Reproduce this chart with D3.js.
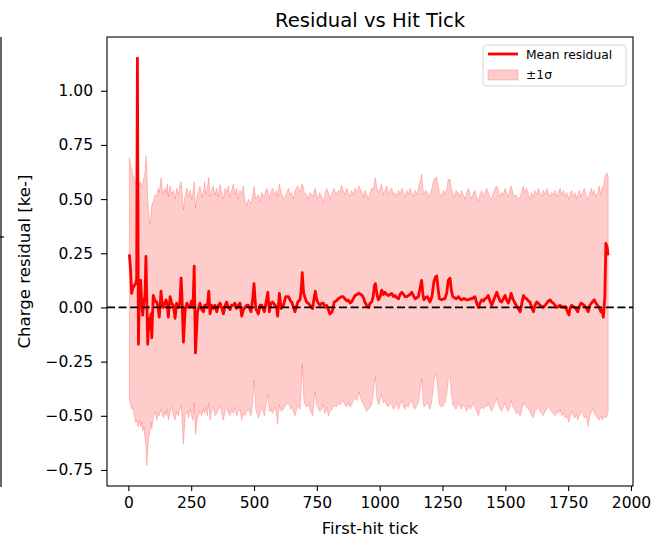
<!DOCTYPE html>
<html><head><meta charset="utf-8">
<script src="https://cdn.jsdelivr.net/npm/d3@7"></script>
<style>body{margin:0;background:#fff}svg{display:block}text{font-family:"DejaVu Sans",sans-serif}</style>
</head><body><svg id="c" width="658" height="539"></svg>
<script>
const firstHitTick = [
4,9,13,18,23,29,33,36,40,45,
49,53,57,62,66,70,73,77,81,86,
90,93,99,106,113,118,123,130,135,139,
145,150,155,159,166,172,179,186,192,199,
205,210,214,219,226,233,240,246,252,257,
262,267,275,285,292,299,304,309,314,320,
325,331,338,345,352,358,365,371,378,385,
391,398,405,411,418,424,431,437,444,451,
458,464,471,477,488,495,500,507,517,524,
531,541,549,555,561,567,573,584,590,594,
601,608,617,626,637,645,650,657,663,674,
683,688,692,697,700,709,716,723,733,740,
744,749,753,762,770,776,782,789,796,802,
811,819,827,835,842,848,855,862,869,875,
882,888,895,902,910,918,925,931,937,941,
948,955,962,968,974,979,983,989,995,1002,
1008,1015,1021,1028,1035,1041,1048,1055,1061,1068,
1075,1081,1088,1095,1101,1108,1114,1121,1128,1134,
1141,1148,1154,1161,1167,1172,1176,1183,1190,1196,
1200,1208,1216,1222,1227,1233,1238,1247,1254,1260,
1267,1273,1280,1285,1291,1298,1304,1310,1313,1320,
1326,1333,1340,1346,1353,1360,1366,1373,1379,1386,
1393,1399,1406,1413,1419,1426,1432,1439,1446,1452,
1459,1466,1472,1479,1486,1492,1499,1505,1512,1518,
1523,1530,1536,1543,1549,1559,1566,1572,1578,1585,
1592,1598,1605,1612,1618,1625,1631,1638,1645,1651,
1658,1665,1671,1678,1684,1691,1698,1704,1711,1718,
1724,1731,1738,1744,1753,1758,1764,1770,1777,1783,
1788,1795,1801,1808,1814,1821,1830,1836,1843,1849,
1854,1860,1867,1873,1880,1885,1890,1896,1900,1905,
1909];
const meanResidual = [
.245,.17,.065,.09,.10,.11,.13,1.15,-.17,.12,
.125,.02,-.035,.03,.05,.235,.06,-.17,-.05,-.10,
-.03,-.14,.055,.03,.025,.00,-.045,.075,.01,.00,
.02,.035,.01,-.045,.05,.02,.01,-.05,.02,.00,
.02,.135,.03,-.16,-.01,.02,.00,.00,.03,.00,
.19,-.21,-.02,.02,-.01,-.02,.01,.01,.00,.075,
-.03,.01,-.005,.01,-.02,.01,.02,.00,-.03,.01,
.025,.00,-.01,.01,.01,.02,-.005,.01,.02,-.04,
-.01,.00,.01,.01,-.02,.04,.11,-.005,-.03,.01,
.01,-.02,.03,.07,-.02,.02,.025,.01,.00,-.04,
.065,-.005,.01,.05,.05,.03,.025,.00,-.02,.025,
.035,.08,.16,.07,.055,.025,.02,.01,-.005,.05,
.075,.04,.025,.01,.02,.02,.00,.01,-.01,-.03,
-.02,.025,.03,.04,.045,.05,.05,.04,.03,.035,
.02,.025,.04,.055,.06,.065,.06,.055,.04,.025,
.01,.00,.02,.025,.05,.10,.11,.06,.035,.05,
.08,.06,.07,.06,.055,.06,.065,.05,.055,.045,
.04,.06,.07,.06,.05,.05,.055,.06,.07,.055,
.04,.045,.05,.09,.125,.06,.035,.045,.05,.035,
.025,.05,.12,.14,.145,.08,.04,.035,.04,.04,
.07,.125,.135,.08,.05,.045,.04,.045,.05,.04,
.035,.04,.04,.035,.035,.04,.04,.045,.05,.02,
.00,.02,.035,.03,.04,.045,.055,.03,.01,.03,
.05,.07,.05,.03,.025,.04,.055,.035,.02,.04,
.065,.04,.025,.01,.00,-.02,.02,.055,.045,.04,
.03,.025,.00,-.02,.01,.025,.02,.01,.005,.00,
.01,.02,.03,.035,.025,.02,.01,.00,.005,.01,
.005,.00,.005,-.01,-.035,.00,.01,.005,.00,-.01,
-.02,.005,.02,.015,.01,.00,-.02,.01,.02,.03,
.035,.02,.01,.00,-.02,-.01,-.045,.05,.295,.28,
.24];
const bandHigh = [
.69,.66,.64,.61,.60,.57,.58,.60,.59,.56,
.58,.55,.57,.60,.62,.70,.65,.50,.42,.385,
.44,.47,.49,.52,.51,.55,.53,.60,.55,.52,
.55,.53,.57,.51,.56,.52,.54,.50,.55,.52,
.56,.58,.53,.45,.52,.55,.51,.54,.50,.53,
.58,.46,.52,.56,.51,.54,.58,.52,.55,.60,
.51,.54,.56,.52,.55,.51,.57,.53,.50,.55,
.53,.56,.51,.54,.57,.52,.55,.50,.54,.52,
.56,.49,.47,.50,.48,.52,.56,.50,.52,.49,
.53,.51,.55,.54,.50,.53,.55,.52,.54,.51,
.57,.53,.50,.52,.55,.52,.53,.50,.54,.56,
.53,.56,.57,.55,.53,.52,.50,.53,.51,.54,
.55,.52,.50,.53,.51,.48,.52,.55,.53,.50,
.53,.55,.52,.54,.53,.565,.54,.52,.55,.53,
.51,.54,.52,.55,.53,.56,.54,.53,.51,.54,
.52,.50,.53,.55,.54,.58,.60,.55,.53,.55,
.57,.52,.54,.56,.52,.54,.55,.52,.53,.51,
.54,.52,.55,.53,.51,.54,.52,.55,.53,.51,
.54,.52,.55,.58,.615,.55,.52,.54,.53,.51,
.52,.55,.59,.60,.60,.56,.53,.51,.54,.52,
.55,.59,.59,.55,.53,.51,.54,.52,.53,.51,
.54,.52,.50,.53,.55,.52,.50,.53,.54,.51,
.49,.52,.54,.51,.53,.55,.53,.51,.50,.53,
.55,.56,.54,.51,.53,.52,.55,.53,.51,.54,
.56,.53,.51,.52,.50,.51,.54,.56,.53,.55,
.52,.50,.53,.51,.54,.52,.55,.53,.51,.54,
.52,.55,.53,.51,.53,.52,.54,.51,.53,.55,
.52,.54,.51,.53,.50,.52,.54,.51,.53,.50,
.52,.54,.51,.53,.55,.52,.50,.53,.55,.52,
.54,.51,.53,.56,.52,.55,.56,.60,.615,.62,
.60];
const bandLow = [
-.42,-.45,-.47,-.46,-.50,-.53,-.52,-.54,-.55,-.52,
-.55,-.53,-.57,-.55,-.60,-.64,-.73,-.66,-.60,-.57,
-.53,-.56,-.51,-.48,-.52,-.49,-.50,-.47,-.49,-.51,
-.48,-.50,-.47,-.52,-.48,-.46,-.50,-.52,-.48,-.50,
-.47,-.45,-.52,-.63,-.50,-.48,-.51,-.47,-.50,-.52,
-.44,-.585,-.51,-.48,-.50,-.47,-.49,-.46,-.50,-.44,
-.52,-.48,-.46,-.50,-.49,-.47,-.45,-.49,-.52,-.48,
-.46,-.49,-.50,-.47,-.49,-.46,-.50,-.48,-.47,-.52,
-.49,-.50,-.48,-.47,-.50,-.44,-.335,-.47,-.51,-.49,
-.46,-.50,-.44,-.40,-.48,-.47,-.49,-.46,-.50,-.54,
-.45,-.48,-.47,-.45,-.44,-.47,-.46,-.48,-.50,-.45,
-.47,-.38,-.26,-.40,-.44,-.46,-.45,-.47,-.50,-.42,
-.39,-.45,-.46,-.48,-.47,-.45,-.49,-.46,-.50,-.48,
-.47,-.45,-.46,-.44,-.45,-.44,-.43,-.45,-.46,-.44,
-.46,-.45,-.43,-.42,-.43,-.39,-.42,-.44,-.45,-.46,
-.48,-.47,-.46,-.45,-.40,-.35,-.32,-.42,-.45,-.43,
-.40,-.44,-.43,-.45,-.46,-.44,-.45,-.47,-.46,-.44,
-.47,-.45,-.43,-.46,-.47,-.45,-.46,-.44,-.43,-.46,
-.47,-.45,-.44,-.38,-.33,-.42,-.46,-.45,-.44,-.46,
-.47,-.43,-.34,-.31,-.32,-.40,-.45,-.46,-.45,-.44,
-.40,-.33,-.32,-.40,-.45,-.46,-.47,-.45,-.44,-.46,
-.47,-.45,-.46,-.48,-.45,-.47,-.46,-.44,-.46,-.48,
-.50,-.47,-.46,-.47,-.45,-.46,-.44,-.47,-.48,-.46,
-.44,-.42,-.45,-.47,-.48,-.46,-.44,-.47,-.48,-.46,
-.43,-.46,-.47,-.49,-.48,-.50,-.47,-.44,-.45,-.46,
-.47,-.48,-.50,-.51,-.48,-.47,-.46,-.48,-.49,-.50,
-.48,-.47,-.46,-.47,-.48,-.49,-.50,-.48,-.49,-.47,
-.50,-.49,-.51,-.50,-.53,-.50,-.48,-.50,-.51,-.49,
-.52,-.50,-.48,-.49,-.51,-.50,-.55,-.50,-.48,-.47,
-.49,-.50,-.51,-.52,-.50,-.52,-.51,-.50,-.51,-.50,
-.48];
const xTickValues = [0, 250, 500, 750, 1000, 1250, 1500, 1750, 2000];
const yTickValues = [-0.75, -0.50, -0.25, 0.00, 0.25, 0.50, 0.75, 1.00];
const titleText = "Residual vs Hit Tick";
const xLabel = "First-hit tick";
const yLabel = "Charge residual [ke-]";
const legendLabels = ["Mean residual", "\u00b11\u03c3"];

const n = Math.min(firstHitTick.length, meanResidual.length, bandHigh.length, bandLow.length);
const rows = d3.range(n).map(i => ({t: firstHitTick[i], m: meanResidual[i], hi: bandHigh[i], lo: bandLow[i]}));

const svg = d3.select("#c");
const L = 107, R = 633, T = 37, B = 486;
const x = d3.scaleLinear().domain([-85, 2008]).range([L, R]);
const y = d3.scaleLinear().domain([-0.824, 1.248]).range([B, T]);

svg.append("rect").attr("x",0).attr("y",0).attr("width",658).attr("height",539).attr("fill","#fff");

// neighbouring panel remnant at far left
svg.append("line").attr("x1",1).attr("x2",1).attr("y1",37).attr("y2",487).attr("stroke","#000").attr("stroke-width",1.2);
svg.append("line").attr("x1",0).attr("x2",4).attr("y1",237).attr("y2",237).attr("stroke","#000").attr("stroke-width",1.2);

const clip = svg.append("defs").append("clipPath").attr("id","pc");
clip.append("rect").attr("x",L).attr("y",T).attr("width",R-L).attr("height",B-T);
const g = svg.append("g").attr("clip-path","url(#pc)");

const area = d3.area().x(d => x(d.t)).y0(d => y(d.lo)).y1(d => y(d.hi));
g.append("path").datum(rows).attr("d", area)
  .attr("fill","rgba(255,0,0,0.2)").attr("stroke","rgba(255,0,0,0.2)").attr("stroke-width",1);

const line = d3.line().x(d => x(d.t)).y(d => y(d.m));
g.append("path").datum(rows).attr("d", line)
  .attr("fill","none").attr("stroke","#ff0000").attr("stroke-width",2.8).attr("stroke-linejoin","round");

g.append("line").attr("x1",L).attr("x2",R).attr("y1",y(0)).attr("y2",y(0))
  .attr("stroke","#000").attr("stroke-width",1.8).attr("stroke-dasharray","8,3.6");

// axes
const xAxis = svg.append("g").attr("transform",`translate(0,${B})`)
  .call(d3.axisBottom(x).tickValues(xTickValues).tickSize(5).tickPadding(6).tickFormat(d3.format("d")));
const yAxis = svg.append("g").attr("transform",`translate(${L},0)`)
  .call(d3.axisLeft(y).tickValues(yTickValues).tickSize(6).tickPadding(8).tickFormat(d3.format(".2f")));
[xAxis, yAxis].forEach(a => {
  a.select(".domain").remove();
  a.selectAll(".tick line").attr("stroke","#000").attr("stroke-width",1.1);
  a.selectAll(".tick text").attr("fill","#000").style("font-size","15.5px").style("font-family","DejaVu Sans");
});

svg.append("rect").attr("x",L).attr("y",T).attr("width",R-L).attr("height",B-T)
  .attr("fill","none").attr("stroke","#000").attr("stroke-width",1.1);

svg.append("text").attr("x",(L+R)/2).attr("y",27).attr("text-anchor","middle")
  .style("font-size","19.6px").attr("fill","#000").text(titleText);
svg.append("text").attr("x",(L+R)/2).attr("y",534).attr("text-anchor","middle")
  .style("font-size","16.4px").attr("fill","#000").text(xLabel);
svg.append("text").attr("transform",`translate(30,${(T+B)/2}) rotate(-90)`).attr("text-anchor","middle")
  .style("font-size","16.6px").attr("fill","#000").text(yLabel);

// legend
const lg = svg.append("g");
lg.append("rect").attr("x",483).attr("y",45).attr("width",143).attr("height",41).attr("rx",3)
  .attr("fill","rgba(255,255,255,0.8)").attr("stroke","#d6d6d6").attr("stroke-width",1);
lg.append("line").attr("x1",488).attr("x2",518).attr("y1",54).attr("y2",54).attr("stroke","#ff0000").attr("stroke-width",2.8);
lg.append("rect").attr("x",488).attr("y",70).attr("width",30).attr("height",10)
  .attr("fill","rgba(255,0,0,0.2)").attr("stroke","rgba(255,0,0,0.2)").attr("stroke-width",1);
lg.selectAll("text.lab").data(legendLabels).enter().append("text").attr("class","lab")
  .attr("x",526).attr("y",(d,i) => i === 0 ? 59 : 79).style("font-size","12.3px").attr("fill","#000").text(d => d);
</script>
</body></html>
